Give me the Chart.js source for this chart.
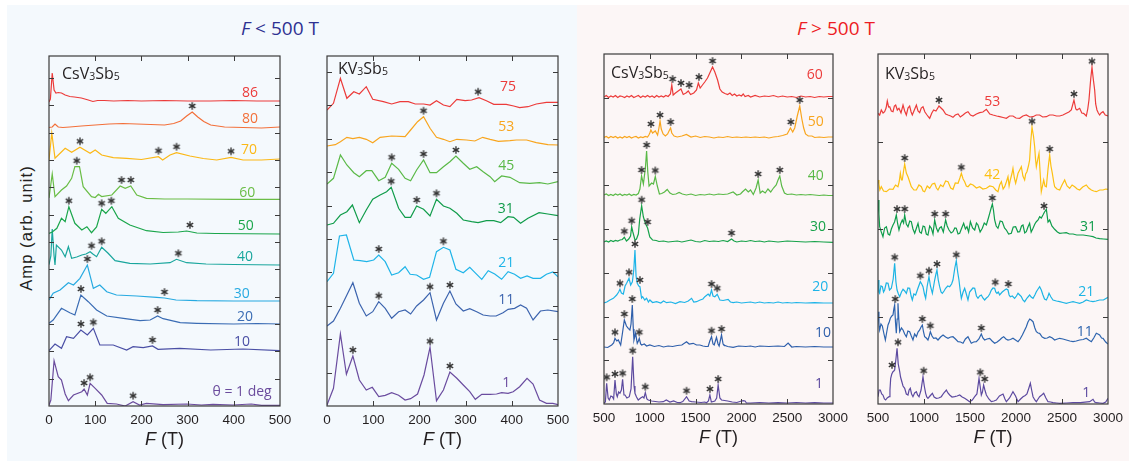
<!DOCTYPE html>
<html>
<head>
<meta charset="utf-8">
<script src="https://cdn.jsdelivr.net/npm/chart.js@4.4.1/dist/chart.umd.min.js"></script>
<style>
body { margin: 0; width: 1129px; height: 461px; position: relative; overflow: hidden; background: #fff; }
.bg { position: absolute; }
.title { position: absolute; width: 200px; top: 15px; line-height: 26px; text-align: center; font-family: 'Open Sans'; font-size: 19px; }
.ylab { position: absolute; left: 26px; top: 228px; transform: translate(-50%, -50%) rotate(-90deg); white-space: nowrap;
        font-family: 'Liberation Sans'; font-size: 16.5px; letter-spacing: 1.1px; color: #231f20; }
.panel { position: absolute; }
</style>
</head>
<body>
<div class="bg" style="left:7px;top:5px;width:570px;height:456px;background:#f4f9fd"></div>
<div class="bg" style="left:577px;top:5px;width:552px;height:456px;background:#fcf6f6"></div>
<div class="title" style="left:180px;color:#2e3192"><i>F</i> &lt; 500 T</div>
<div class="title" style="left:736px;color:#ed1c24"><i>F</i> &gt; 500 T</div>
<div class="ylab">Amp (arb. unit)</div>

<script>
// ---- CsV3Sb5, F < 500 T (amplitudes, offset-stacked, arb. unit) ----
const csLoAngles = ['86', '80', '70', '60', '50', '40', '30', '20', '10', 'θ = 1 deg'];
const csLo86 = [[0,304],[3,307],[7,333],[11,316],[15,313],[20,313.5],[27,313],[35,311],[45,309.5],[55,309],[70,308],[85,306],[95,304.5],[105,305.5],[120,305.5],[140,305],[170,305.5],[200,305],[250,305.5],[300,305],[350,305],[400,305.5],[450,305],[500,305]];
const csLo80 = [[0,278.5],[7,279],[13,282],[20,279],[30,278.5],[45,279],[70,280],[100,281],[130,282],[160,282.5],[190,282],[220,281.5],[250,281],[270,282.5],[285,285],[298,290],[310,294],[322,289],[335,284.5],[350,281],[380,279],[420,278.5],[460,278],[500,279]];
const csLo70 = [[0,246],[6,273],[13,247.7],[24,252.7],[35,257.7],[49,253.7],[67,258.7],[89,252.7],[100,256],[114,251],[139,248.3],[168,247.7],[200,246.5],[237,249.3],[246,246],[262,251],[276,253.3],[305,250],[334,247.5],[363,246],[394,248.7],[420,246],[460,246],[500,247]];
const csLo60 = [[0,208],[7,232],[13,209.3],[27,216],[38,220],[49,227.7],[56,239.3],[66,239.3],[74,219.3],[92,209.3],[100,208.5],[107,211.7],[114,209.5],[136,211],[154,220],[165,217.7],[177,220],[190,211],[211,207.7],[250,207],[300,207],[400,206.7],[500,206.7]];
const csLo50 = [[0,172.5],[7,174],[17,177.7],[27,187.7],[35,184.3],[43,199.3],[56,182.7],[71,176],[82,179.3],[92,173.3],[103,179],[114,196.7],[123,192.7],[136,199.3],[150,187.7],[175,181],[211,175.3],[247,173.5],[280,174],[298,175],[320,173],[360,172.5],[500,172]];
const csLo40 = [[0,141.5],[4,150],[7,177],[11,150],[13,141],[16,161],[27,156],[35,149.3],[42,159.3],[49,147.7],[60,149],[71,151],[80,152],[89,154.3],[95,152],[103,149.3],[114,158.7],[128,152.7],[143,145.3],[175,142.7],[219,142],[262,143.3],[276,146.7],[298,143.3],[340,142],[400,141.5],[500,141]];
const csLo30 = [[0,106],[9,112.7],[24,116],[42,123.3],[53,121],[67,127.7],[83,141],[96,117.7],[110,121],[125,114.3],[146,111],[190,110],[233,108.7],[250,108],[275,106],[320,105.3],[400,105],[500,105]];
const csLo20 = [[0,82.7],[9,86],[27,97.7],[45,93.3],[56,91],[69,111],[85,104.3],[103,96],[125,90],[161,87.7],[197,85.3],[219,86],[235,90],[247,87.3],[284,83.3],[320,82.7],[400,82],[450,82.5],[500,82]];
const csLo10 = [[0,55.3],[13,62],[27,57.7],[38,69.3],[53,67.7],[69,76],[83,71],[96,77.7],[110,61],[139,61],[168,56],[182,59.3],[204,58.3],[224,60],[236,56.7],[283,57.7],[350,56],[420,57],[500,55.3]];
const csLo1 = [[0,1],[4,6],[11,45.3],[20,29.3],[27,26],[35,12],[42,5.3],[53,11],[71,14.3],[76,17],[83,11],[89,22.7],[100,17.7],[114,11],[126,2.7],[146,2],[165,0],[182,4.3],[196,1],[211,2.7],[247,1.3],[298,2],[330,1],[355,1.7],[398,1],[438,2],[460,0.7],[500,0.7]];
const csLoPeaks = [[], [310], [67, 237, 276, 394], [60, 157, 177], [43, 114, 135, 305], [92, 114, 280], [83, 250], [69, 235], [69, 96, 224], [76, 89, 182]];

// ---- KV3Sb5, F < 500 T ----
const kLoAngles = ['75', '53', '45', '31', '21', '11', '1'];
const kLo75 = [[0,296],[14,302.7],[29,327.7],[43,307.7],[58,314.3],[70,312],[85,319.3],[99,306.7],[122,304.3],[140,302],[158,304.3],[176,304.3],[191,302],[209,302],[223,301],[237,305.3],[252,301],[266,299.3],[281,306.7],[299,305.3],[313,306],[329,308.3],[345,305.3],[361,301.7],[388,301.7],[404,300],[417,298.3],[435,299.3],[453,302],[475,303.7],[500,303.7]];
const kLo53 = [[0,260],[18,261.3],[29,264.3],[43,268.7],[56,267.3],[70,268.7],[85,266.7],[99,263.3],[115,268.7],[140,270],[169,269.3],[181,276],[196,284.3],[209,289.3],[223,277.7],[237,268.7],[252,266.7],[266,264.3],[281,266.7],[302,266],[320,265],[337,268.7],[353,266.7],[371,264.7],[396,265.3],[410,266],[432,266],[453,263.3],[478,261.3],[500,261]];
const kLo45 = [[0,222],[14,227.7],[29,251],[43,241],[58,233.3],[70,229.3],[85,235.3],[97,235.3],[112,225.3],[126,228.7],[140,242.7],[155,236.7],[169,227.7],[181,225.3],[194,236],[209,246],[223,233.3],[237,233.3],[252,239.3],[266,244.3],[279,250],[295,242.7],[309,236.7],[324,239.3],[338,234.3],[353,229.3],[363,224.3],[378,230],[396,228.7],[417,223.3],[439,222.7],[460,223.3],[478,222],[500,224.3]];
const kLo31 = [[0,181],[14,182.7],[29,191],[43,194.3],[55,201],[70,183.3],[85,196],[99,206.7],[115,211],[129,214.3],[139,218.7],[155,197.7],[169,188.7],[181,188.7],[194,200],[209,196.7],[223,190],[237,206.7],[252,200],[266,197.7],[281,192.7],[295,186],[313,184.3],[327,183.3],[345,185.3],[361,185.3],[376,183.3],[392,189.3],[404,188.7],[419,182.7],[435,187.7],[459,193.3],[478,192],[500,190.3]];
const kLo21 = [[0,124.3],[14,132.7],[27,170],[42,171],[58,146],[72,145.3],[86,144.3],[101,146],[112,151],[126,144.3],[140,131],[155,133.3],[169,139.3],[180,131.7],[194,131],[209,126.7],[222,128.7],[237,154.3],[252,158.7],[266,156],[279,136.7],[295,133.3],[309,138.7],[322,132.7],[335,126.7],[349,135.3],[363,132],[378,126.7],[392,134.3],[406,131.7],[419,127.7],[433,130],[446,127.7],[462,127.7],[475,131.7],[489,134],[500,129.3]];
const kLo11 = [[0,80],[14,85],[29,97.7],[43,111],[56,123.3],[70,102.7],[85,90],[99,94.3],[112,104.3],[126,97.7],[140,87.7],[155,94.3],[169,96],[181,92],[194,100],[209,106],[223,113.3],[237,86],[252,102.7],[266,115],[279,102],[295,95],[309,97.3],[324,94.3],[338,91],[353,90],[366,90],[381,93.3],[392,96.7],[406,97.7],[419,101],[432,97.7],[446,86],[462,95],[478,96],[500,94.3]];
const kLo1 = [[0,1],[14,17.7],[29,72],[42,31.7],[56,50],[70,26],[85,16],[98,18.7],[112,9.3],[126,10.7],[140,13.3],[155,10.7],[169,6],[181,7.3],[196,12],[210,31],[223,58.7],[237,5.3],[252,16],[266,34],[281,27.7],[295,21],[309,14.3],[321,6.7],[335,11.7],[353,11.7],[367,12],[378,13.3],[392,12.7],[403,14.3],[417,19.3],[433,27.7],[446,22],[460,6],[475,2.7],[489,2.7],[500,1.3]];
const kLoPeaks = [[327], [209], [140, 209, 279], [139, 194, 237], [112, 252], [112, 223, 266], [56, 223, 266]];

// ---- CsV3Sb5, F > 500 T ----
const csHiAngles = ['60', '50', '40', '30', '20', '10', '1'];
const csHi60 = [[500,307],[525,308.5],[550,306.5],[575,308],[600,307],[625,308.5],[650,306.5],[675,308],[700,307.5],[725,306.5],[750,308],[775,307],[800,308.5],[825,306.5],[850,307.5],[875,308.5],[900,306.5],[925,308],[950,307],[975,308.5],[1000,307],[1025,308],[1050,306.5],[1075,308.5],[1100,307],[1125,308],[1150,307],[1175,308.5],[1200,307.5],[1225,310],[1240,319],[1255,309],[1280,311],[1310,313],[1340,315],[1365,309.5],[1395,311],[1420,313],[1445,309.5],[1480,311],[1510,314],[1530,321],[1550,316],[1575,319],[1600,322],[1630,326],[1660,332],[1685,337],[1710,332],[1740,324],[1765,315],[1790,312],[1820,310.5],[1850,309.5],[1875,311],[1900,308.5],[1925,310],[1950,308],[1975,309],[2000,308],[2020,310],[2040,307.5],[2075,308.5],[2100,307],[2150,308.5],[2200,307],[2250,308],[2300,307.5],[2350,308.5],[2400,307],[2450,308],[2500,307],[2550,307.5],[2600,306.5],[2650,308],[2700,307],[2750,307.5],[2800,306.5],[2850,307.5],[2900,307],[2950,307.5],[3000,307.5]];
const csHi50 = [[500,266.5],[525,267.5],[550,266],[575,267.5],[600,266.5],[625,267.5],[650,266],[675,267],[700,266],[725,267.5],[750,266.5],[775,267.5],[800,266],[825,267],[850,267.5],[875,266],[900,267],[925,266.5],[950,267.5],[975,267],[990,269],[1000,271],[1012,274],[1030,271],[1060,273],[1085,269],[1100,276],[1112,283],[1125,275],[1145,270],[1170,268],[1195,270],[1215,274],[1227,276],[1240,271],[1265,268],[1300,267],[1350,268],[1400,269.5],[1450,267],[1500,268],[1550,266.5],[1600,267.5],[1650,267],[1700,266],[1750,267],[1800,266.5],[1850,267.5],[1900,266.5],[1950,267],[2000,266.5],[2050,267],[2100,266.5],[2150,267],[2200,266.5],[2250,267],[2300,266],[2350,267],[2400,267.5],[2450,268.5],[2500,270],[2535,276],[2560,272],[2582,276],[2610,288],[2637,298],[2660,285],[2680,276],[2700,270],[2730,268],[2770,268],[2800,266.5],[2850,267],[2900,266.5],[2950,267],[3000,267]];
const csHi40 = [[500,209],[525,210],[550,208.5],[575,209.5],[600,208.5],[625,210],[650,209],[675,210],[700,208.5],[725,209.5],[750,209],[775,210],[800,208.5],[825,209.5],[850,209],[875,210.5],[892,215],[910,228],[930,220],[952,236],[965,253],[978,232],[992,218],[1020,221],[1040,220],[1060,227.5],[1082,218],[1105,210],[1130,210.5],[1160,212],[1190,214.5],[1220,211],[1250,209.5],[1285,210],[1320,211.5],[1355,210],[1400,209],[1450,210],[1500,208.5],[1550,209.5],[1600,209],[1650,210],[1700,209],[1750,210],[1800,209.5],[1850,210],[1910,212],[1950,209],[1990,210],[2010,212],[2045,215],[2075,212],[2100,214],[2130,209.5],[2160,216],[2183,224],[2205,211],[2230,213],[2260,211],[2290,215],[2320,212],[2350,216],[2380,219],[2400,224],[2419,228],[2440,218],[2470,211],[2500,209.5],[2550,210],[2600,209],[2650,209.5],[2700,209],[2750,209.5],[2800,209],[2850,208.5],[2900,209],[2950,208.5],[3000,208.5]];
const csHi30 = [[500,162],[525,163],[550,162],[575,163.5],[600,162.5],[625,163.5],[650,163],[675,164],[700,164.5],[722,166.7],[745,163],[770,165],[790,168],[802,177.3],[815,172],[838,164],[855,165],[875,170],[890,185],[911,198.3],[930,187],[955,180],[976,176],[1000,167],[1030,164],[1070,163.5],[1100,162.5],[1150,163],[1200,162],[1250,162.5],[1300,163],[1350,162],[1400,163],[1450,164],[1500,162.5],[1550,162],[1600,163.5],[1650,162.5],[1700,163],[1750,162.5],[1800,163.5],[1850,162.5],[1892,165],[1920,163],[1950,162],[2000,163],[2050,162.5],[2100,163.5],[2150,162.5],[2200,163],[2250,162],[2300,163],[2350,162.5],[2400,162],[2500,163],[2600,162.5],[2700,162],[2800,162.5],[2900,162],[3000,161.7]];
const csHi20 = [[500,101],[530,102],[565,104],[602,105.7],[638,109],[660,112],[674,114.7],[690,111],[711,110],[730,118],[747,120.7],[773,125.7],[791,119],[810,122.3],[826,135],[838,154],[850,128],[863,120.7],[880,118],[892,117.3],[910,106],[922,107.3],[945,104],[965,105.7],[985,102],[1001,104],[1030,101.5],[1074,102.3],[1120,101],[1150,103],[1183,101.3],[1230,102],[1280,100.5],[1329,102.3],[1380,101.5],[1420,103],[1456,105.7],[1480,102],[1510,102.3],[1550,104],[1580,105],[1601,107.3],[1637,110],[1655,108],[1674,114],[1690,108],[1710,107.3],[1736,109.7],[1765,104],[1800,103.5],[1855,104.7],[1880,102],[1910,101.3],[1950,102],[2000,101],[2050,101.5],[2100,102],[2150,101],[2200,102],[2250,101],[2300,101.5],[2350,101],[2400,102],[2450,101],[2500,101.5],[2550,101],[2600,101.5],[2700,101],[2800,101.3],[2900,101],[3000,101]];
const csHi10 = [[500,57],[540,56.5],[584,59],[605,61],[620,65.7],[640,63],[656,64],[682,59],[700,70],[722,84],[745,78],[765,75.7],[783,74],[795,80],[809,99],[820,75],[827,64],[845,70.7],[863,60.7],[875,63],[885,65.7],[900,60],[911,59],[940,60],[965,58],[1000,59],[1050,57.5],[1100,58.5],[1150,57],[1200,58],[1250,57.5],[1300,58.5],[1350,59],[1401,62.3],[1430,60],[1474,60.7],[1510,59],[1547,59],[1580,58],[1610,57.5],[1637,57.5],[1655,63],[1674,67.3],[1690,60],[1703,59],[1728,66.7],[1745,60],[1757,58],[1783,69],[1800,60],[1808,59],[1850,57.5],[1910,56.7],[1970,58],[2050,57.5],[2100,58],[2150,57],[2200,58],[2300,57.5],[2400,58],[2470,57.5],[2510,61],[2550,57],[2600,57.5],[2700,57],[2800,57.5],[2900,57],[3000,57]];
const csHi1 = [[500,1],[515,2],[529,20.7],[545,6],[558,4],[575,8],[591,7.3],[605,5],[620,24],[635,10],[645,7.3],[660,12],[674,10.7],[690,14],[703,24.7],[718,9],[729,9],[750,6],[776,7.3],[795,15],[813,47.3],[828,18],[838,10.7],[855,7],[874,4],[900,6],[922,7.3],[936,6],[951,11.3],[968,5],[983,4],[1020,3],[1060,2.5],[1100,2],[1147,2.3],[1180,4],[1220,2],[1260,3],[1300,1.5],[1329,1.3],[1360,2.5],[1401,7.3],[1430,3],[1456,2.3],[1500,2],[1560,1.5],[1600,2],[1619,1.3],[1640,3],[1656,9],[1672,2],[1685,2.3],[1710,3],[1730,6],[1746,19],[1765,6],[1783,4],[1850,3],[1900,2],[1950,1.5],[2000,3],[2019,3.3],[2040,3],[2055,1],[2100,1],[2200,1.5],[2300,1],[2400,1.3],[2500,1],[2600,1.5],[2700,1],[2800,1.3],[2900,1],[3000,1]];
const csHiPeaks = [[1249, 1340, 1430, 1536, 1685], [1012, 1112, 1227, 2539, 2637], [910, 965, 1060, 2183, 2419], [722, 802, 911, 976, 1892], [674, 773, 838, 892, 1674, 1736], [620, 722, 809, 885, 1674, 1783], [529, 620, 703, 813, 951, 1401, 1656, 1746]];

// ---- KV3Sb5, F > 500 T ----
const kHiAngles = ['53', '42', '31', '21', '11', '1'];
const kHi53 = [[500,290.7],[518,289],[536,294],[555,291],[572,292.3],[588,296],[601,303],[615,297],[627,297.3],[645,293],[663,292.3],[678,298],[692,299],[710,294],[728,295.7],[750,291],[772,299],[790,293],[808,289],[826,296],[844,298],[860,292],[873,289],[895,294],[917,299],[935,293],[953,291.3],[970,296],[989,297.3],[1010,292],[1033,289],[1050,287],[1062,285.7],[1085,291],[1105,294],[1130,293],[1150,296],[1163,298],[1185,296],[1207,294],[1235,290],[1261,289],[1290,288],[1315,286.7],[1340,289],[1370,290],[1395,287],[1424,289],[1450,291],[1478,292.3],[1505,289],[1533,288],[1570,290],[1605,291.3],[1640,292],[1678,294.7],[1715,290],[1750,289],[1790,288],[1822,287.3],[1860,286.5],[1895,285.7],[1930,288],[1967,288],[2000,286],[2040,285.7],[2075,288],[2112,289],[2150,287],[2185,287.3],[2220,289],[2257,289],[2290,287],[2330,287.3],[2365,289],[2402,289],[2440,288],[2475,288],[2510,289],[2547,290.7],[2575,292],[2601,294],[2630,304],[2650,295],[2663,294],[2692,295.7],[2715,291],[2735,290.7],[2764,288],[2780,295],[2793,304],[2812,325],[2826,336.7],[2840,325],[2855,314],[2866,300],[2880,294],[2895,291],[2909,289],[2925,291],[2946,292.3],[2970,289],[3000,288]];
const kHi42 = [[500,224],[510,220],[520,214],[536,217.3],[560,213],[591,212.3],[625,215],[663,214.7],[690,219],[717,217.3],[730,222],[743,230.7],[755,224],[764,224],[778,233],[790,240],[808,231],[826,227.3],[845,222],[862,217.3],[890,214],[917,214],[945,219],[971,217.3],[990,213],[1007,212.3],[1035,218],[1062,215.7],[1090,220],[1116,220.7],[1135,216],[1152,214],[1180,219],[1207,217.3],[1235,223],[1261,222.3],[1290,216],[1315,214.7],[1340,221],[1370,220.7],[1390,226],[1406,230.7],[1425,225],[1442,222.3],[1460,218],[1478,217.3],[1505,220],[1533,219],[1570,216],[1605,217.3],[1640,215],[1678,215.7],[1715,218],[1750,217.3],[1780,214],[1804,212.3],[1822,219],[1841,222.3],[1860,215],[1877,217.3],[1895,222],[1913,227.3],[1925,218],[1938,224],[1955,230],[1967,235.7],[1982,226],[1996,220.7],[2010,226],[2022,230.7],[2040,234],[2058,237.3],[2075,228],[2094,224],[2105,230],[2119,232.3],[2135,238],[2148,244],[2160,262],[2174,276.7],[2190,268],[2203,257.3],[2212,245],[2221,237.3],[2235,244],[2250,250.7],[2262,232],[2275,212.3],[2288,218],[2301,224],[2315,218],[2330,217.3],[2348,235],[2366,249],[2380,238],[2395,230.7],[2410,222],[2420,217.3],[2445,215],[2475,214],[2500,219],[2529,224],[2555,218],[2583,215.7],[2610,219],[2638,217.3],[2665,215],[2692,214],[2725,217],[2764,219],[2790,216],[2819,214],[2845,213],[2873,212.3],[2910,214],[2946,214],[2975,215],[3000,214.7]];
const kHi31 = [[500,204],[510,190],[518,177.3],[536,172],[554,167.3],[572,176],[591,177.3],[610,170],[627,169],[645,175],[663,179],[680,182],[699,189],[714,180],[728,174],[745,180],[764,184],[778,181],[790,189],[808,180],[826,177.3],[845,183],[862,182.3],[880,175],[899,170.7],[918,176],[935,180.7],[953,172],[971,170.7],[990,178],[1007,177.3],[1025,170],[1043,169],[1062,178],[1080,175.7],[1098,170],[1116,184],[1135,176],[1152,172.3],[1170,176],[1188,177.3],[1210,172],[1235,184],[1252,178],[1272,174],[1295,171],[1315,172.3],[1335,176],[1351,175.7],[1370,170],[1388,170.7],[1410,176],[1431,180.7],[1450,175],[1467,177.3],[1485,172],[1504,182.3],[1528,176],[1551,174],[1570,181],[1587,179],[1610,172],[1634,175.7],[1655,181],[1678,179],[1700,186],[1714,190.7],[1730,196],[1743,200],[1755,194],[1768,184],[1785,178],[1804,175.7],[1828,183],[1851,182.3],[1875,176],[1895,174],[1920,170],[1949,170.7],[1970,177],[1996,177.3],[2020,172],[2040,172.3],[2060,178],[2076,179],[2095,171],[2112,172.3],[2130,177],[2148,180.7],[2165,172],[2185,175.7],[2205,180],[2221,182.3],[2240,184],[2257,187.3],[2275,186],[2293,189],[2310,192],[2330,194.7],[2348,182],[2366,184],[2390,178],[2420,174.7],[2450,172],[2475,170.7],[2510,171],[2547,171.3],[2580,170],[2620,170],[2660,169],[2692,169],[2730,169],[2764,168.5],[2800,168],[2837,167.3],[2870,166],[2909,165.3],[2950,165],[3000,164.7]];
const kHi21 = [[500,124],[510,112],[518,110.7],[532,118],[547,117.3],[560,112],[572,114],[590,121],[609,120.7],[625,114],[645,115.7],[665,125],[681,140.7],[695,122],[707,114],[722,110],[736,107.3],[755,112],[772,114.7],[790,113],[808,110.7],[825,116],[844,115.7],[860,108],[873,104],[890,110],[909,109],[935,116],[960,122.3],[975,120],[989,117.3],[1005,110],[1018,105.7],[1035,118],[1054,127.3],[1070,118],[1091,110.7],[1105,118],[1116,124],[1130,130],[1141,134],[1155,124],[1170,117.3],[1185,112],[1199,110.7],[1218,113],[1235,115.7],[1258,118],[1279,117.3],[1300,120],[1315,124],[1335,136],[1351,143.3],[1366,132],[1380,124],[1393,114],[1406,105.7],[1425,112],[1442,115.7],[1460,110],[1478,104],[1496,112],[1514,114],[1532,116],[1551,115.7],[1570,108],[1587,105.7],[1605,108],[1623,109],[1640,106],[1659,104],[1678,106],[1696,107.3],[1714,110],[1732,114],[1750,116],[1768,115.7],[1780,112],[1793,110.7],[1808,112],[1822,109],[1850,112],[1877,114],[1895,115],[1913,114],[1925,109],[1938,107.3],[1960,108],[1985,105.7],[2005,108],[2022,110.7],[2040,109],[2058,107.3],[2075,104],[2094,102.3],[2120,106],[2148,109],[2165,107],[2185,105.7],[2205,109],[2221,112.3],[2240,115],[2257,117.3],[2275,114],[2293,109],[2310,105],[2330,104],[2345,107],[2359,110.7],[2380,107],[2402,104],[2440,103],[2475,102.3],[2510,101.5],[2547,100.7],[2580,101.5],[2620,102.3],[2655,101.5],[2692,100.7],[2730,102],[2764,104],[2800,103],[2837,102.3],[2870,103],[2909,104],[2950,104],[3000,106.7]];
const kHi11 = [[500,92.3],[510,80],[518,74],[532,80],[547,78],[565,70],[580,64],[595,72],[609,79],[622,82],[634,85.7],[650,88],[663,89],[672,95],[681,99],[690,82],[699,70.7],[708,85],[717,100.7],[726,85],[736,72.3],[755,76],[772,74],[790,70],[808,67.3],[825,73],[844,72.3],[862,68],[880,64],[898,70],[917,67.3],[935,72],[953,74],[968,77],[982,79],[995,72],[1007,67.3],[1025,66],[1043,64],[1057,68],[1069,72.3],[1087,68],[1105,65.7],[1130,66],[1152,64],[1180,67],[1207,69],[1235,67],[1261,65.7],[1290,67],[1315,67.3],[1342,65],[1370,62.3],[1397,62],[1424,60.7],[1450,65],[1478,67.3],[1496,64],[1514,60.7],[1540,62],[1569,62.3],[1597,65],[1623,70],[1640,66],[1659,64],[1685,65],[1714,65.7],[1740,63],[1768,60.7],[1795,62],[1822,64],[1845,66],[1866,67.3],[1890,65],[1913,64],[1940,64.5],[1967,65.7],[1995,64],[2022,62.3],[2045,65],[2069,69],[2090,73],[2112,77.3],[2130,82],[2149,85],[2165,84],[2185,82.3],[2205,76],[2221,72.3],[2240,71],[2257,70.7],[2285,67],[2312,65.7],[2340,66],[2366,67.3],[2395,66],[2420,64],[2450,65],[2475,65.7],[2510,65],[2547,64],[2585,63],[2620,62.3],[2655,63],[2692,64],[2730,64.5],[2764,65.7],[2790,64],[2819,62.3],[2845,66],[2873,70.7],[2890,70],[2909,69],[2930,66],[2946,65.7],[2975,62],[3000,60]];
const kHi1 = [[500,7.3],[512,14],[525,14],[540,10],[554,9],[570,5],[583,4],[600,6],[620,7.3],[630,14],[638,25.7],[650,30],[663,32.3],[672,33],[681,34],[695,45],[707,55.7],[720,40],[736,32.3],[745,27],[754,24],[772,18],[790,15.7],[808,10],[826,9],[838,14],[851,15.7],[865,10],[880,7.3],[898,11],[917,12.3],[930,9],[946,7.3],[968,14],[989,27.3],[1003,18],[1018,10.7],[1030,7],[1043,5.7],[1065,8],[1091,10.7],[1110,7],[1134,5.7],[1160,6],[1188,7.3],[1215,11],[1243,14],[1260,11],[1279,9],[1305,7],[1333,7.3],[1360,8],[1388,9],[1415,7],[1442,5.7],[1470,4],[1496,2.3],[1525,4],[1551,7.3],[1575,10],[1598,25.7],[1610,18],[1623,9],[1635,12],[1648,19],[1662,14],[1678,9],[1705,5],[1732,2.3],[1760,3],[1786,4],[1820,8],[1859,10],[1880,5],[1895,2.3],[1930,6],[1967,12.3],[1995,8],[2022,2.3],[2050,5],[2076,7.3],[2100,8.5],[2119,10],[2140,16],[2156,20.7],[2170,14],[2185,7.3],[2205,4],[2221,2.3],[2240,5],[2257,7.3],[2280,9],[2301,10.7],[2325,6],[2348,2.3],[2375,2],[2402,1.3],[2440,1],[2475,0.7],[2550,1],[2620,1.3],[2700,1.3],[2801,2.3],[2837,4.7],[2855,2],[2873,1.3],[2910,1],[2946,0.7],[2975,2],[3000,5.7]];
const kHiPeaks = [[1163, 2630, 2826], [790, 1406, 2174, 2366], [707, 790, 1116, 1235, 1743, 2305], [681, 960, 1054, 1141, 1351, 1775, 1917], [688, 982, 1069, 1623], [652, 717, 996, 1612, 1659]];

// asterisk marker (6 arms), used as the library's point style
function makeStar() {
    const c = document.createElement('canvas');
    c.width = 10; c.height = 10;
    const g = c.getContext('2d');
    g.strokeStyle = '#333';
    g.lineWidth = 1.4;
    for (let k = 0; k < 3; k++) {
        const a = Math.PI / 2 + k * Math.PI / 3;
        const dx = Math.cos(a) * 3.7, dy = Math.sin(a) * 3.7;
        g.beginPath();
        g.moveTo(5 - dx, 5 - dy);
        g.lineTo(5 + dx, 5 + dy);
        g.stroke();
    }
    return c;
}
const starImg = makeStar();

function valueAt(trace, f) {
    for (let i = 1; i < trace.length; i++) {
        if (trace[i][0] >= f) {
            const [x0, y0] = trace[i - 1], [x1, y1] = trace[i];
            return y0 + (y1 - y0) * (f - x0) / (x1 - x0);
        }
    }
    return trace[trace.length - 1][1];
}

function peakValue(trace, f, win) {
    let best = valueAt(trace, f);
    trace.forEach(([x, y]) => { if (Math.abs(x - f) <= win && y > best) best = y; });
    return best;
}

const decorPlugin = {
    id: 'decor',
    afterDraw(chart, args, o) {
        const ctx = chart.ctx;
        const a = chart.chartArea;
        const xs = chart.scales.x, ys = chart.scales.y;
        ctx.save();
        // frame
        ctx.strokeStyle = '#3b3b3b';
        ctx.lineWidth = 1.2;
        ctx.strokeRect(a.left, a.top, a.right - a.left, a.bottom - a.top);
        // inward ticks
        ctx.lineWidth = 1;
        ctx.beginPath();
        xs.ticks.forEach(t => {
            if (t.value <= xs.min || t.value >= xs.max) return;
            const px = Math.round(xs.getPixelForValue(t.value)) + 0.5;
            ctx.moveTo(px, a.top); ctx.lineTo(px, a.top + 5);
            ctx.moveTo(px, a.bottom); ctx.lineTo(px, a.bottom - 5);
        });
        for (let v = o.yStep; v < ys.max - 5; v += o.yStep) {
            const py = Math.round(ys.getPixelForValue(v)) + 0.5;
            ctx.moveTo(a.left, py); ctx.lineTo(a.left + 5, py);
            ctx.moveTo(a.right, py); ctx.lineTo(a.right - 5, py);
        }
        ctx.stroke();
        // angle labels
        ctx.textAlign = 'center';
        ctx.textBaseline = 'middle';
        ctx.font = "14px 'Open Sans'";
        o.labels.forEach((lb, i) => {
            ctx.fillStyle = o.colors[i];
            ctx.fillText(lb, xs.getPixelForValue(o.labelAt[i][0]), ys.getPixelForValue(o.labelAt[i][1]));
        });
        // compound name with subscripts
        ctx.textAlign = 'left';
        ctx.textBaseline = 'alphabetic';
        ctx.fillStyle = '#231f20';
        let nx = a.left + o.nameAt[0];
        const ny = a.top + o.nameAt[1];
        o.name.forEach(([txt, sub]) => {
            ctx.font = sub ? "10.5px 'Open Sans'" : "16px 'Open Sans'";
            ctx.fillText(txt, nx, ny + (sub ? 1 : 0));
            nx += ctx.measureText(txt).width;
        });
        // axis title  F (T)
        ctx.textBaseline = 'middle';
        ctx.font = "italic 18px 'Liberation Sans'";
        const w1 = ctx.measureText('F').width;
        ctx.font = "18px 'Liberation Sans'";
        const w2 = ctx.measureText(' (T)').width;
        const cx = (a.left + a.right) / 2 - (w1 + w2) / 2;
        const cy = a.bottom + 34;
        ctx.font = "italic 18px 'Liberation Sans'";
        ctx.fillText('F', cx, cy);
        ctx.font = "18px 'Liberation Sans'";
        ctx.fillText(' (T)', cx + w1, cy);
        ctx.restore();
    }
};

function buildPanel(p) {
    const padL = 25, padR = 25, padT = 10, axisH = 55;
    const w = p.area[2] - p.area[0], h = p.area[3] - p.area[1];
    const div = document.createElement('div');
    div.className = 'panel';
    div.style.left = (p.area[0] - padL) + 'px';
    div.style.top = (p.area[1] - padT) + 'px';
    const canvas = document.createElement('canvas');
    canvas.width = w + padL + padR;
    canvas.height = h + padT + axisH;
    div.appendChild(canvas);
    document.body.appendChild(div);

    const stars = [];
    p.traces.forEach((t, i) => p.peaks[i].forEach(f => stars.push({ x: f, y: peakValue(t, f, p.win) + 6 })));
    const datasets = [{ data: stars, showLine: false, pointStyle: starImg, pointRadius: 4, pointHoverRadius: 4 }];
    p.traces.forEach((t, i) => datasets.push({
        data: t, borderColor: p.colors[i], borderWidth: 1.2, pointRadius: 0, tension: 0, fill: false
    }));

    new Chart(canvas, {
        type: 'line',
        data: { datasets },
        options: {
            responsive: false,
            animation: false,
            devicePixelRatio: 1,
            layout: { padding: { left: padL, right: padR, top: padT, bottom: 0 } },
            plugins: {
                legend: { display: false },
                tooltip: { enabled: false },
                decor: {
                    yStep: p.yStep, labels: p.labels, labelAt: p.labelAt, colors: p.colors,
                    name: p.name, nameAt: p.nameAt
                }
            },
            scales: {
                x: {
                    type: 'linear', min: p.xMin, max: p.xMax,
                    border: { display: false },
                    grid: { display: false, drawTicks: false },
                    ticks: { stepSize: p.xStep, padding: 6, color: '#231f20', maxRotation: 0, autoSkip: false,
                             font: { family: 'Liberation Sans', size: 13.5 },
                             callback: v => String(v) },
                    afterFit: s => { s.height = axisH; }
                },
                y: { display: false, min: 0, max: 350 }
            }
        },
        plugins: [decorPlugin]
    });
}

const csName = [['CsV', false], ['3', true], ['Sb', false], ['5', true]];
const kName = [['KV', false], ['3', true], ['Sb', false], ['5', true]];

buildPanel({
    area: [49, 56, 280, 406], xMin: 0, xMax: 500, xStep: 100, yStep: 27.33, win: 12,
    traces: [csLo86, csLo80, csLo70, csLo60, csLo50, csLo40, csLo30, csLo20, csLo10, csLo1],
    peaks: csLoPeaks, labels: csLoAngles,
    colors: ['#ec3b3a', '#f3703a', '#fbb817', '#6abd46', '#1aa64b', '#19a69d', '#27aae1', '#3a6cb4', '#4a4fa5', '#6b4c9d'],
    labelAt: [[435, 312.7], [435, 287], [433, 256], [429, 213.3], [426, 180], [424, 149.3], [417, 111.7], [424, 89.3], [418, 64.3], [418, 14.3]],
    name: csName, nameAt: [13, 23]
});
buildPanel({
    area: [327, 56, 558, 406], xMin: 0, xMax: 500, xStep: 100, yStep: 33.4, win: 12,
    traces: [kLo75, kLo53, kLo45, kLo31, kLo21, kLo11, kLo1],
    peaks: kLoPeaks, labels: kLoAngles,
    colors: ['#ec3b3a', '#f8a51e', '#5ab947', '#109c4a', '#1eb4e8', '#3c64ae', '#6a4c9f'],
    labelAt: [[392, 319.3], [388, 279.3], [388, 240], [387, 196.7], [388, 143.3], [388, 106], [388, 23.3]],
    name: kName, nameAt: [11, 18]
});
buildPanel({
    area: [604, 54, 833, 404], xMin: 500, xMax: 3000, xStep: 500, yStep: 43.75, win: 20,
    traces: [csHi60, csHi50, csHi40, csHi30, csHi20, csHi10, csHi1],
    peaks: csHiPeaks, labels: csHiAngles,
    colors: ['#ec3b3a', '#f8a51e', '#5ab947', '#17a24a', '#1eb4e8', '#2f5fab', '#5c4a9f'],
    labelAt: [[2800, 329], [2811, 282.3], [2811, 228], [2837, 176.7], [2862, 116.7], [2891, 71.3], [2848, 20]],
    name: csName, nameAt: [7, 24]
});
buildPanel({
    area: [878, 54, 1108, 404], xMin: 500, xMax: 3000, xStep: 500, yStep: 87.5, win: 20,
    traces: [kHi53, kHi42, kHi31, kHi21, kHi11, kHi1],
    peaks: kHiPeaks, labels: kHiAngles,
    colors: ['#ec3b3a', '#fcc012', '#0f9d4b', '#1cb4e4', '#2e64ae', '#5d4aa0'],
    labelAt: [[1743, 302.3], [1743, 229], [2783, 176.7], [2764, 112.3], [2746, 72.3], [2764, 11.3]],
    name: kName, nameAt: [7, 25]
});
</script>
</body>
</html>
